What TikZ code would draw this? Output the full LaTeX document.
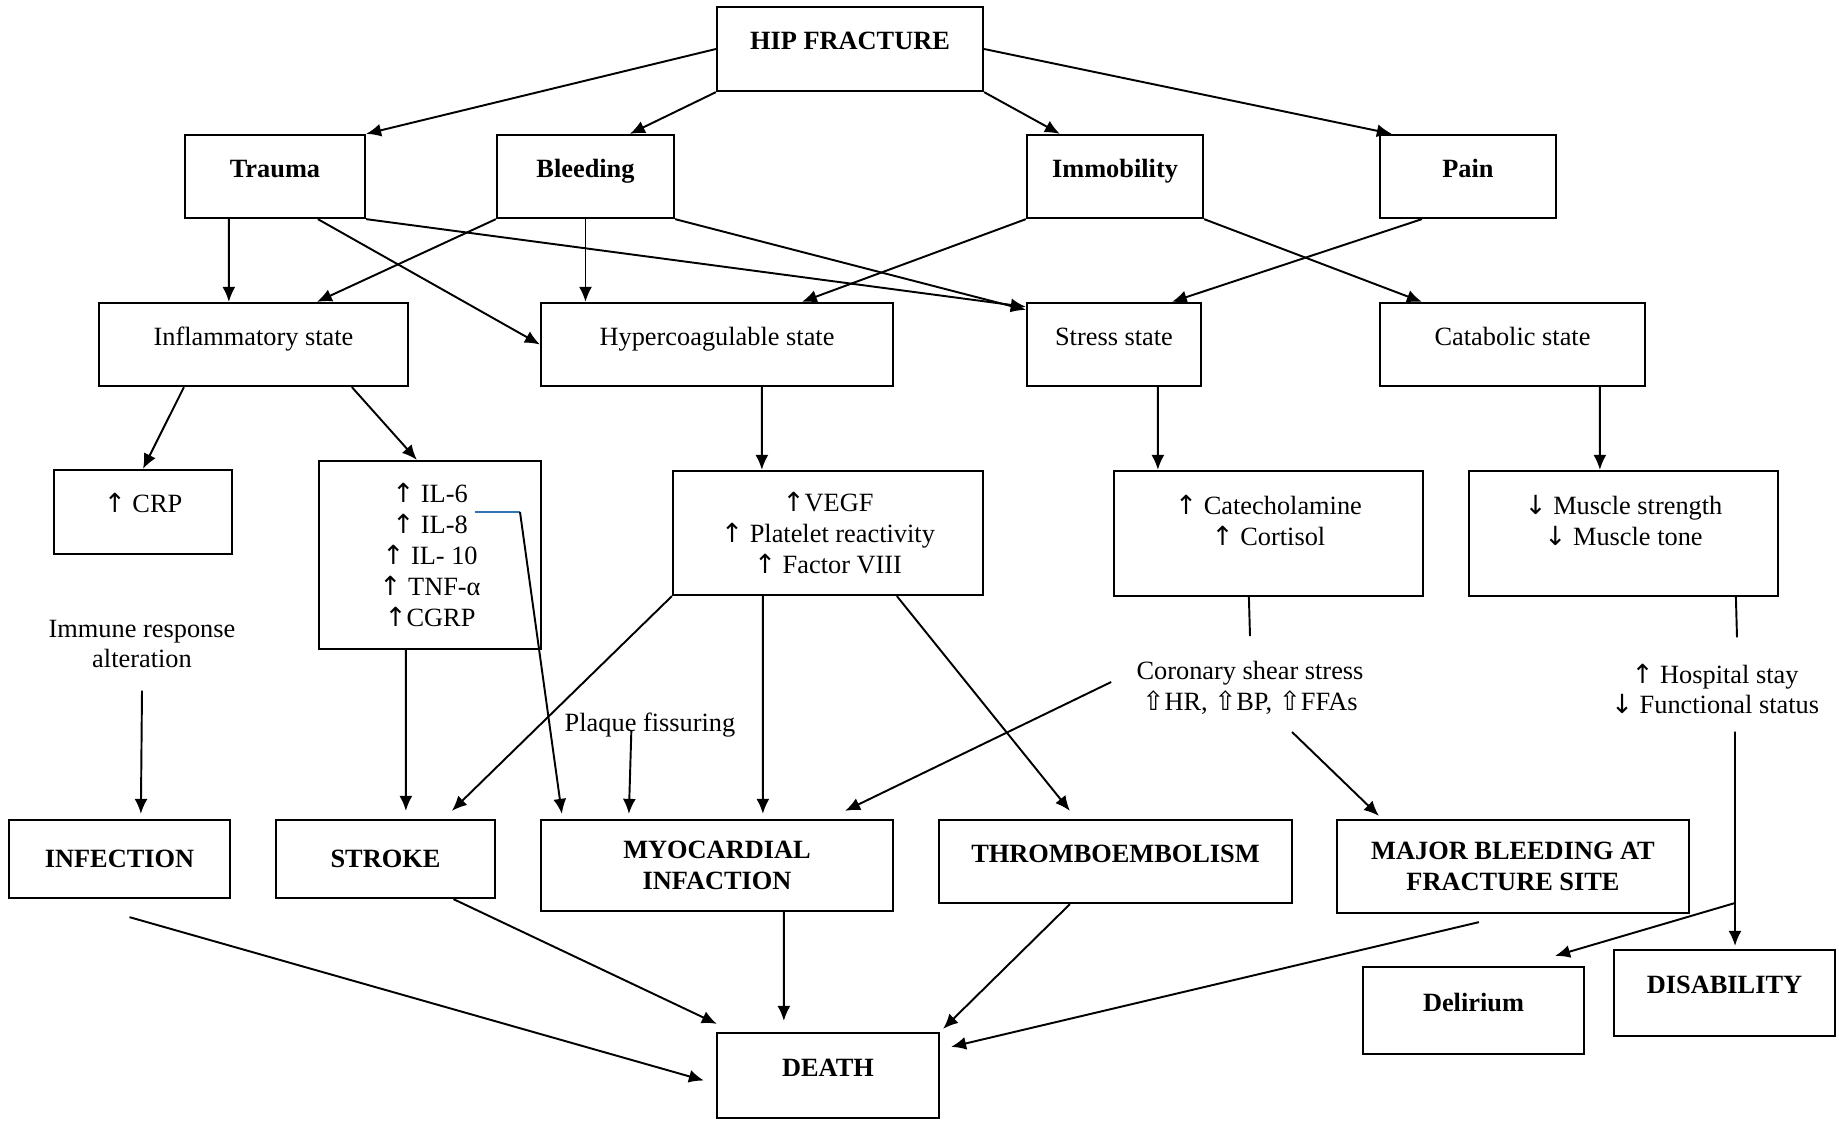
\documentclass[tikz,border=0pt]{standalone}
\usepackage{fontspec}
\setmainfont{Liberation Serif}
\newfontfamily\arrfont{DejaVu Sans}
\usepackage{tikz}
\usetikzlibrary{arrows.meta, positioning, calc}
\definecolor{linkblue}{RGB}{46,117,182}
\newcommand{\upar}{{\arrfont\char"2191}}
\newcommand{\dnar}{{\arrfont\char"2193}}
\newcommand{\upwh}{{\arrfont\char"21E7}}

\begin{document}
\begin{tikzpicture}[x=0.02cm, y=-0.02cm,
    box/.style={draw, line width=1.3pt, align=center, inner sep=0pt, font=\fontsize{15}{17.6}\selectfont},
    bbox/.style={box, font=\fontsize{15}{17.6}\selectfont\bfseries},
    lift/.style={text height=0.42cm, text depth=0.39cm},
    lbl/.style={align=center, inner sep=0pt, font=\fontsize{15}{17.6}\selectfont},
    arrow/.style={-{Latex[length=0.3cm, width=0.26cm]}, line width=1.1pt},
    link/.style={line width=1.1pt}
]
    \useasboundingbox (0,0) rectangle (1839,1120);

    \node[bbox, lift, minimum width=5.32cm, minimum height=1.68cm] (hip) at (850,49) {HIP FRACTURE};

    \node[bbox, lift, minimum width=3.6cm, minimum height=1.66cm] (trauma) at (275,176.5) {Trauma};
    \node[bbox, lift, minimum width=3.54cm, minimum height=1.66cm] (bleed) at (585.5,176.5) {Bleeding};
    \node[bbox, lift, minimum width=3.52cm, minimum height=1.66cm] (immob) at (1115,176.5) {Immobility};
    \node[bbox, lift, minimum width=3.52cm, minimum height=1.66cm] (pain) at (1468,176.5) {Pain};

    \node[box, lift, minimum width=6.18cm, minimum height=1.66cm] (inflam) at (253.5,344.5) {Inflammatory state};
    \node[box, lift, minimum width=7.04cm, minimum height=1.66cm] (hyper) at (717,344.5) {Hypercoagulable state};
    \node[box, lift, minimum width=3.48cm, minimum height=1.66cm] (stress) at (1114,344.5) {Stress state};
    \node[box, lift, minimum width=5.3cm, minimum height=1.66cm] (catab) at (1512.5,344.5) {Catabolic state};

    \node[box, lift, minimum width=3.56cm, minimum height=1.68cm] (crp) at (143,512) {\upar{} CRP};
    \node[box, minimum width=4.44cm, minimum height=3.76cm] (il) at (430,555)
        {\upar{} IL-6\\ \upar{} IL-8\\ \upar{} IL- 10\\ \upar{} TNF-α\\ \upar{}CGRP};
    \node[box, minimum width=6.2cm, minimum height=2.48cm] (vegf) at (828,533)
        {\upar{}VEGF\\ \upar{} Platelet reactivity\\ \upar{} Factor VIII};
    \node[box, text height=1.1cm, text depth=0.61cm, minimum width=6.18cm, minimum height=2.5cm] (cat) at (1268.5,533.5)
        {\upar{} Catecholamine\\ \upar{} Cortisol};
    \node[box, text height=1.1cm, text depth=0.61cm, minimum width=6.18cm, minimum height=2.5cm] (musc) at (1623.5,533.5)
        {\dnar{} Muscle strength\\ \dnar{} Muscle tone};

    \node[lbl] (immune) at (142,644) {Immune response\\ alteration};
    \node[lbl] (plaque) at (650,725) {Plaque fissuring};
    \node[lbl] (coronary) at (1250,688) {Coronary shear stress\\ \upwh{}HR, \upwh{}BP, \upwh{}FFAs};
    \node[lbl] (hosp) at (1715,689) {\upar{} Hospital stay\\ \dnar{} Functional status};

    \node[bbox, minimum width=4.42cm, minimum height=1.56cm] (infect) at (119.5,859) {INFECTION};
    \node[bbox, minimum width=4.38cm, minimum height=1.56cm] (stroke) at (385.5,859) {STROKE};
    \node[bbox, minimum width=7.04cm, minimum height=1.82cm] (mi) at (717,865.5) {MYOCARDIAL\\ INFACTION};
    \node[bbox, lift, minimum width=7.06cm, minimum height=1.66cm] (thrombo) at (1115.5,861.5) {THROMBOEMBOLISM};
    \node[bbox, minimum width=7.04cm, minimum height=1.86cm] (major) at (1513,866.5) {MAJOR BLEEDING AT\\ FRACTURE SITE};

    \node[bbox, lift, minimum width=4.42cm, minimum height=1.74cm] (delir) at (1473.5,1010.5) {Delirium};
    \node[bbox, lift, minimum width=4.42cm, minimum height=1.72cm] (disab) at (1724.5,993) {DISABILITY};
    \node[bbox, lift, minimum width=4.44cm, minimum height=1.7cm] (death) at (828,1075.5) {DEATH};

    % causes
    \draw[arrow] (hip.west) -- (trauma.north east);
    \draw[arrow] (hip.south west) -- ($(bleed.north west)+(134,0)$);
    \draw[arrow] (hip.south east) -- ($(immob.north west)+(34,0)$);
    \draw[arrow] (hip.east) -- ($(pain.north west)+(13,0)$);

    \draw[arrow] ($(trauma.south west)+(45,0)$) -- ($(inflam.north west)+(131,0)$);
    \draw[arrow] ($(trauma.south west)+(134,0)$) -- (hyper.west);
    \draw[arrow] (trauma.south east) -- ($(stress.north west)+(0,5)$);
    \draw[arrow] (bleed.south west) -- ($(inflam.north west)+(219,0)$);
    \draw[arrow] (bleed.south) -- (bleed.south |- hyper.north);
    \draw[arrow] (bleed.south east) -- ($(stress.north west)+(0,8)$);
    \draw[arrow] (immob.south west) -- ($(hyper.north west)+(262,0)$);
    \draw[arrow] (immob.south east) -- ($(catab.north west)+(43,0)$);
    \draw[arrow] ($(pain.south west)+(43,0)$) -- ($(stress.north west)+(146,0)$);

    \draw[arrow] ($(inflam.south west)+(86,0)$) -- (crp.north);
    \draw[arrow] ($(inflam.south west)+(254,0)$) -- ($(il.north west)+(99,0)$);
    \draw[arrow] ($(hyper.south west)+(222,0)$) -- ($(vegf.north west)+(90,0)$);
    \draw[arrow] ($(stress.south west)+(132,0)$) -- ($(cat.north west)+(45,0)$);
    \draw[arrow] ($(catab.south west)+(221,0)$) -- ($(musc.north west)+(132,0)$);

    % outcomes
    \coordinate (il8) at (475,512);
    \coordinate (ilbend) at (520,512);
    \draw[link, linkblue] (il8) -- (ilbend);
    \draw[arrow] (ilbend) -- ($(mi.north west)+(22,-5)$);
    \draw[arrow] ($(il.south west)+(88,0)$) -- ($(stroke.north west)+(131,-8)$);
    \draw[arrow] (vegf.south west) -- ($(stroke.north west)+(177,-8)$);
    \draw[arrow] ($(vegf.south west)+(91,0)$) -- ($(mi.north west)+(223,-5)$);
    \draw[arrow] ($(vegf.south west)+(225,0)$) -- ($(thrombo.north west)+(132,-8)$);
    \draw[arrow] ($(plaque.west)+(67,5)$) -- ($(mi.north west)+(89,-5)$);
    \draw[arrow] ($(coronary.west)+(-25,-6)$) -- ($(mi.north east)+(-49,-8)$);
    \draw[arrow] ($(coronary.south)+(42,17)$) -- ($(major.north west)+(43,-3)$);
    \draw[link] ($(cat.south west)+(136,0)$) -- ($(coronary.north)+(0,-25)$);
    \draw[link] ($(musc.south west)+(268,0)$) -- ($(hosp.north)+(22,-26)$);
    \draw[arrow] ($(immune.south)+(0,22)$) -- ($(infect.north west)+(133,-5)$);

    \coordinate (fork) at (1735,903);
    \draw[arrow] ($(hosp.south)+(20,17)$) -- ($(disab.north)+(10.5,-3)$);
    \draw[arrow] (fork) -- ($(delir.north east)+(-30,-10)$);

    \draw[arrow] ($(infect.south)+(10,18)$) -- ($(death.west)+(-12,5)$);
    \draw[arrow] ($(stroke.south)+(68,0)$) -- ($(death.north west)+(1,-8)$);
    \draw[arrow] ($(mi.south west)+(244,0)$) -- ($(death.north west)+(68,-11)$);
    \draw[arrow] ($(thrombo.south west)+(132,0)$) -- ($(death.north east)+(3,-3)$);
    \draw[arrow] ($(major.south west)+(143,8)$) -- ($(death.north east)+(11,15)$);
\end{tikzpicture}
\end{document}
